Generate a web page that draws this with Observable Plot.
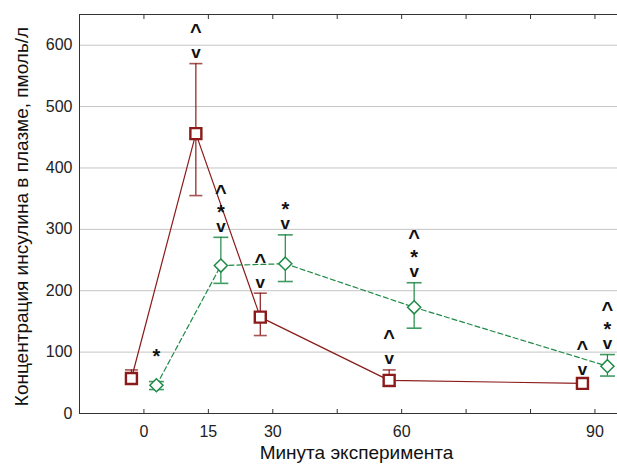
<!DOCTYPE html>
<html><head><meta charset="utf-8">
<script src="https://cdn.jsdelivr.net/npm/d3@7"></script>
<script src="https://cdn.jsdelivr.net/npm/@observablehq/plot@0.6"></script>
<style>body{margin:0;background:#fff} svg{display:block}</style>
</head><body><div id="chart"></div>
<script>
// x axis: experiment minute labels placed on axis slots
const minuteLabels = ["0", "15", "30", "60", "90"];
const minuteSlot = [0, 1, 2, 4, 7];
const axisSlots = [0, 1, 2, 3, 4, 5, 6, 7];
const yTicks = [0, 100, 200, 300, 400, 500, 600];
const gridTicks = [100, 200, 300, 400, 500, 600];

// series 1 (dark red, squares, solid)
const redMean = [57, 456, 157, 54, 49];
const redLow  = [48, 355, 127, 44, 44];
const redHigh = [71, 570, 196, 71, 53];
const redSig  = ["", "^v", "^v", "^v", "^v"];

// series 2 (green, diamonds, dashed)
const greenMean = [46, 241, 244, 173, 77];
const greenLow  = [39, 212, 215, 139, 61];
const greenHigh = [52, 287, 291, 213, 96];
const greenSig  = ["*", "^*v", "*v", "^*v", "^*v"];

const RED = "#8b1a1a", GREEN = "#1f8a46";
const FONT = "'Liberation Sans', Arial, sans-serif";

function rows(mean, low, high, sig) {
  return mean.map((m, i) => ({slot: minuteSlot[i], mean: m, low: low[i], high: high[i], sig: sig[i]}));
}
const red = rows(redMean, redLow, redHigh, redSig);
const green = rows(greenMean, greenLow, greenHigh, greenSig);

const cap = w => ({draw(ctx) { ctx.moveTo(-w, 0); ctx.lineTo(w, 0); }});

// significance glyphs stacked in fixed slots above the upper error bar
function sigMarks(data, dx, slots) {
  return slots.map(([glyph, dy, size]) =>
    Plot.text(data.filter(d => d.sig.includes(glyph)), {
      x: "slot", y: "high", text: () => glyph, dx, dy,
      fontSize: size, fontWeight: "bold", fill: "#111"
    }));
}

const chart = Plot.plot({
  width: 617, height: 466,
  marginLeft: 79, marginRight: 0, marginTop: 14, marginBottom: 53,
  x: {domain: [-1, 7.35]},
  y: {domain: [0, 650]},
  style: {fontFamily: FONT, fontSize: "16px", color: "#222", background: "white", overflow: "visible"},
  marks: [
    Plot.gridY(gridTicks, {stroke: "#c4c4c4", strokeOpacity: 1}),
    Plot.axisY({ticks: yTicks, tickSize: 0, tickPadding: 7, label: null, fontSize: 16}),
    Plot.axisX({ticks: axisSlots, tickSize: -4, tickFormat: () => "", label: null, stroke: "#333"}),
    Plot.axisX({anchor: "top", ticks: axisSlots, tickSize: -4, tickFormat: () => "", label: null, stroke: "#333"}),
    Plot.axisX({ticks: minuteSlot, tickSize: 0, tickPadding: 12, label: null, fontSize: 16,
      tickFormat: d => minuteLabels[minuteSlot.indexOf(d)]}),
    Plot.ruleX([-1], {stroke: "#333"}),
    Plot.ruleY([0], {stroke: "#333"}),
    Plot.ruleY([650], {stroke: "#333"}),
    // connecting lines
    Plot.line(red, {x: "slot", y: "mean", dx: -12.5, stroke: RED, strokeWidth: 1.2}),
    Plot.line(green, {x: "slot", y: "mean", dx: 12.5, stroke: GREEN, strokeWidth: 1.2, strokeDasharray: "5,3"}),
    // error bars
    Plot.ruleX(red, {x: "slot", y1: "low", y2: "high", dx: -12.5, stroke: RED, strokeWidth: 1.2}),
    Plot.ruleX(green, {x: "slot", y1: "low", y2: "high", dx: 12.5, stroke: GREEN, strokeWidth: 1.2}),
    Plot.dot(red, {x: "slot", y: "low", dx: -12.5, symbol: cap(6.5), fill: "none", stroke: RED, strokeWidth: 1.6, strokeOpacity: 0.75}),
    Plot.dot(red, {x: "slot", y: "high", dx: -12.5, symbol: cap(6.5), fill: "none", stroke: RED, strokeWidth: 1.6, strokeOpacity: 0.75}),
    Plot.dot(green, {x: "slot", y: "low", dx: 12.5, symbol: cap(7.5), fill: "none", stroke: GREEN, strokeWidth: 1.6, strokeOpacity: 0.85}),
    Plot.dot(green, {x: "slot", y: "high", dx: 12.5, symbol: cap(7.5), fill: "none", stroke: GREEN, strokeWidth: 1.6, strokeOpacity: 0.85}),
    // markers
    Plot.dot(red, {x: "slot", y: "mean", dx: -12.5, symbol: "square", r: 6.2, fill: "white", stroke: RED, strokeWidth: 2.4}),
    Plot.dot(green, {x: "slot", y: "mean", dx: 12.5, symbol: "diamond2", r: 5.9, fill: "white", stroke: GREEN, strokeWidth: 1.5}),
    // significance marks
    ...sigMarks(red, -12.5, [["^", -32, 20], ["v", -11, 17]]),
    ...sigMarks(green, 12.5, [["^", -45, 20], ["*", -25, 20], ["v", -11, 17]]),
    // axis titles
    Plot.text(["Минута эксперимента"], {frameAnchor: "bottom", lineAnchor: "middle", textAnchor: "middle", dx: 8, dy: 39, fontSize: 19, fill: "#111"}),
    Plot.text(["Концентрация инсулина в плазме, пмоль/л"], {frameAnchor: "left", lineAnchor: "middle", textAnchor: "middle", rotate: -90, dx: -58, dy: 2.5, fontSize: 19, fill: "#111"})
  ]
});
document.getElementById("chart").append(chart);
</script>
</body></html>
